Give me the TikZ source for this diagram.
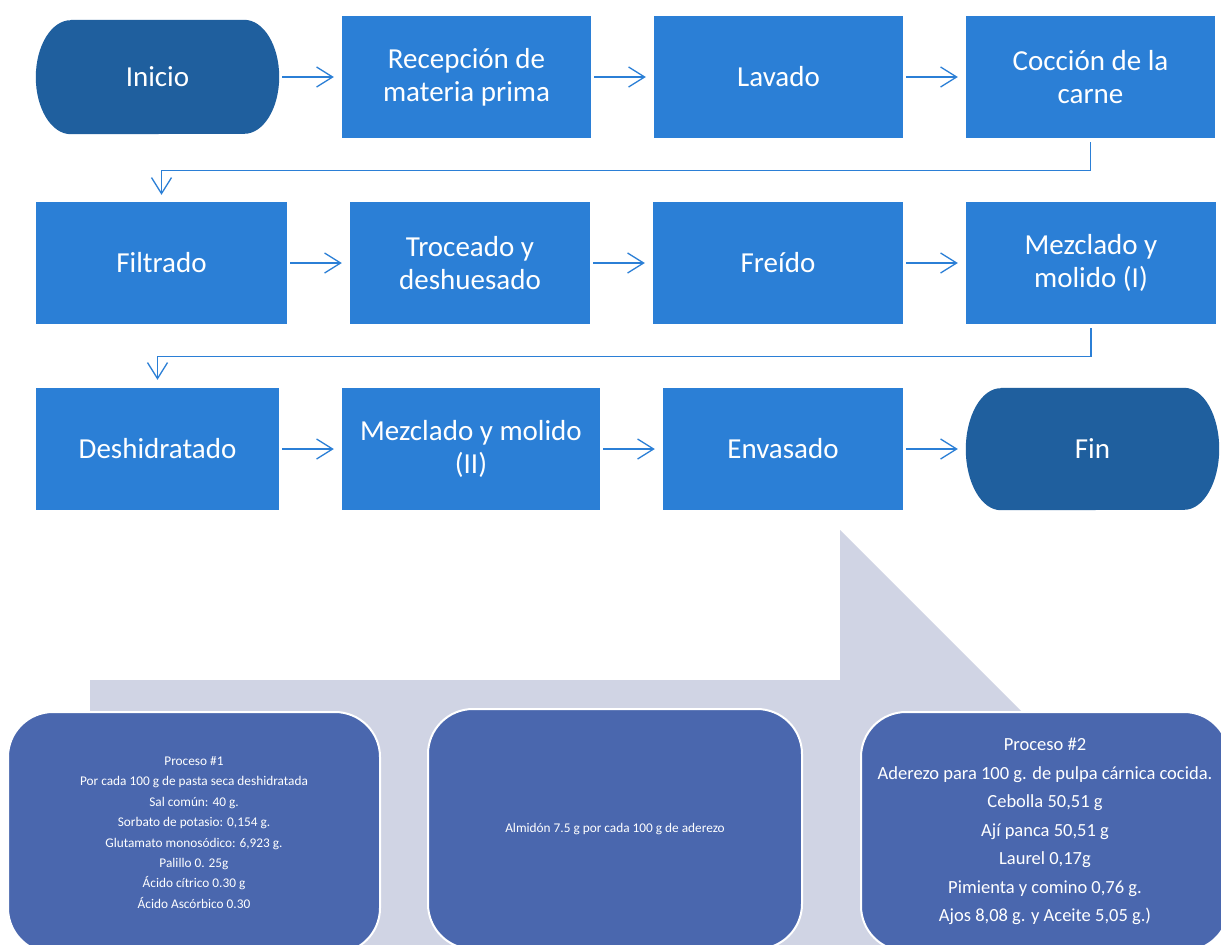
\documentclass[tikz,border=0pt]{standalone}
\usepackage{fontspec}
\setmainfont{Carlito}
\usepackage{tikz}
\usetikzlibrary{positioning,arrows.meta,backgrounds}
\definecolor{termblue}{RGB}{31,95,158}
\definecolor{procblue}{RGB}{43,127,214}
\definecolor{notablue}{RGB}{74,103,174}
\definecolor{backgrey}{RGB}{208,212,228}
\tikzstyle{term}= [rectangle, text=white, minimum height=114pt, inner sep=0pt, font=\fontsize{29}{33}\selectfont]
\tikzstyle{proc}= [rectangle, fill=procblue, text=white, minimum height=122pt, inner sep=0pt, align=center, font=\fontsize{29}{33}\selectfont]
\tikzstyle{flow}= [draw=procblue, line width=1.3pt, -{Straight Barb[length=16pt,width=20pt]}, shorten <=3pt, shorten >=8pt]
\tikzstyle{nota}= [rectangle, rounded corners=45pt, fill=notablue, draw=white, line width=2pt, text=white, align=center, minimum height=241pt]
% fondo de un terminal: extremos en media elipse
\newcommand{\termfill}[2]{\fill[termblue] ([xshift=35pt]#1.north west) -- ([xshift=-35pt]#1.north east) arc[start angle=90,end angle=-90,x radius=35pt,y radius=#2] -- ([xshift=35pt]#1.south west) arc[start angle=270,end angle=90,x radius=35pt,y radius=#2] -- cycle;}

\begin{document}
\begin{tikzpicture}[x=1pt,y=-1pt]
				\clip (0,0) rectangle (1221,945);
				\node[term, minimum width=243pt] (ini) at (157.5,77) {Inicio};
				\node[proc, minimum width=249pt] (rec) at (466.5,77) {Recepción de\\materia prima};
				\node[proc, minimum width=249pt] (lav) at (778.5,77) {Lavado};
				\node[proc, minimum width=249pt] (coc) at (1090.5,77) {Cocción de la\\carne};
				\node[proc, minimum width=251pt] (fil) at (161.5,263) {Filtrado};
				\node[proc, minimum width=240pt] (tro) at (470,263) {Troceado y\\deshuesado};
				\node[proc, minimum width=250pt] (fre) at (778,263) {Freído};
				\node[proc, minimum width=250pt] (mz1) at (1091,263) {Mezclado y\\molido (I)};
				\node[proc, minimum width=243pt] (des) at (157.5,449) {Deshidratado};
				\node[proc, minimum width=258pt] (mz2) at (471,449) {Mezclado y molido\\(II)};
				\node[proc, minimum width=240pt] (env) at (783,449) {Envasado};
				\node[term, minimum width=253pt, minimum height=122pt] (fin) at (1092.5,449) {Fin};
				\begin{scope}[on background layer]
					\fill[white] (0,0) rectangle (1221,945);
					% fondo gris
					\fill[backgrey] (90,970) -- (90,680) -- (840,680) -- (840,530) -- (1035,725) -- (1035,970) -- cycle;
					\termfill{ini}{57pt}
					\termfill{fin}{61pt}
				\end{scope}
				\draw[flow] (ini) -- (rec);
				\draw[flow] (rec) -- (lav);
				\draw[flow] (lav) -- (coc);
				\draw[flow, shorten <=4pt, shorten >=7pt] (coc.south) -- ++(0,32) -| (fil.north);
				\draw[flow] (fil) -- (tro);
				\draw[flow] (tro) -- (fre);
				\draw[flow] (fre) -- (mz1);
				\draw[flow, shorten <=4pt, shorten >=8pt] (mz1.south) -- ++(0,32) -| (des.north);
				\draw[flow] (des) -- (mz2);
				\draw[flow] (mz2) -- (env);
				\draw[flow] (env) -- (fin);
				% recuadros inferiores
				\node[nota, minimum width=372pt, font=\fontsize{13.3}{20.4}\selectfont] (p1) at (194,832.5) {Proceso \#1\\Por cada 100 g de pasta seca deshidratada\\Sal común: 40 g.\\Sorbato de potasio: 0,154 g.\\Glutamato monosódico: 6,923 g.\\Palillo 0. 25g\\Ácido cítrico 0.30 g\\Ácido Ascórbico 0.30};
				\node[nota, minimum width=374pt, minimum height=240pt, font=\fontsize{13.3}{20.4}\selectfont] (alm) at (615,829) {Almidón 7.5 g por cada 100 g de aderezo};
				\node[nota, minimum width=368pt, minimum height=239pt, font=\fontsize{18.5}{28.5}\selectfont] (p2) at (1045,831.5) {Proceso \#2\\Aderezo para 100 g. de pulpa cárnica cocida.\\Cebolla 50,51 g\\Ají panca 50,51 g\\Laurel 0,17g\\Pimienta y comino 0,76 g.\\Ajos 8,08 g. y Aceite 5,05 g.)};
			\end{tikzpicture}
\end{document}
